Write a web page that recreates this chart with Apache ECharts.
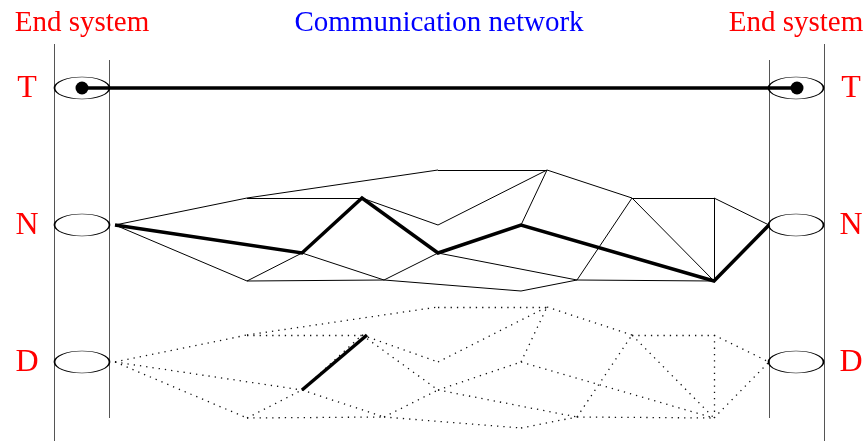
<!DOCTYPE html>
<html>
<head>
<meta charset="utf-8">
<script src="https://cdn.jsdelivr.net/npm/echarts@6/dist/echarts.min.js"></script>
<style>html,body{margin:0;padding:0;background:#fff}#c{width:868px;height:441px}</style>
</head>
<body>
<div id="c"></div>
<script>
// ---- data ----
const layerNames = ['T', 'N', 'D'];
const layerY = [88, 225, 362];
const endSystemX = [82, 796];
const outerBarsX = [54, 824];
const innerBarsX = [109, 769];
const headerLabels = ['End system', 'Communication network', 'End system'];
const headerX = [82, 439, 796];

// network node positions (N layer)
const nodes = {
  A: [115, 225], B: [247, 198], C: [438, 170], D: [362, 198], F: [438, 225],
  G: [547, 170], H: [302, 253], I: [247, 281], J: [384, 280], K: [438, 253],
  L: [521, 225], M: [521, 291], S: [577, 280], O: [632, 198], P: [714, 198],
  Q: [714, 281], R: [769, 225]
};
const thinEdges = [
  ['A','B'],['B','C'],['C','G'],['B','D'],['D','F'],['F','G'],['A','I'],['I','H'],
  ['H','J'],['I','J'],['J','K'],['K','S'],['J','M'],['M','S'],['L','G'],['G','O'],
  ['S','O'],['O','P'],['O','Q'],['P','Q'],['P','R'],['S','Q']
];
const thickPath = ['A','H','D','K','L','Q','R'];
const dLayerShift = 137;
const dThickEdge = [[302, 390], [367, 335]];
const transportLine = [[82, 88], [797, 88]];

// ---- build ----
const edgeCoords = (a, b, dy) => [[nodes[a][0], nodes[a][1] + dy], [nodes[b][0], nodes[b][1] + dy]];
const thinN = thinEdges.map(e => ({ coords: edgeCoords(e[0], e[1], 0) }));
const pathEdges = [];
for (let i = 0; i < thickPath.length - 1; i++) pathEdges.push([thickPath[i], thickPath[i + 1]]);
const dotD = thinEdges.concat(pathEdges).map(e => ({ coords: edgeCoords(e[0], e[1], dLayerShift) }));
const thickN = [{ coords: thickPath.map(k => nodes[k]) }];

const bars = [];
outerBarsX.forEach(x => bars.push({ coords: [[x, 44], [x, 441]] }));
innerBarsX.forEach(x => bars.push({ coords: [[x, 60], [x, 418]] }));

const ellipses = [];
layerY.forEach(y => endSystemX.forEach(x => ellipses.push([x, y])));

const chart = echarts.init(document.getElementById('c'));
const serif = '"Liberation Serif", "DejaVu Serif", serif';
const graphics = [];
headerLabels.forEach((t, i) => graphics.push({
  type: 'text', x: headerX[i], y: 23,
  style: { text: t, fill: i === 1 ? '#0000ff' : '#ff0000', font: '29px ' + serif, align: 'center', verticalAlign: 'middle' }
}));
layerNames.forEach((t, i) => {
  [27, 851].forEach(x => graphics.push({
    type: 'text', x: x, y: layerY[i] + 1,
    style: { text: t, fill: '#ff0000', font: '32px ' + serif, align: 'center', verticalAlign: 'middle' }
  }));
});

chart.setOption({
  animation: false,
  grid: { left: 0, right: 0, top: 0, bottom: 0 },
  xAxis: { type: 'value', min: 0, max: 868, show: false },
  yAxis: { type: 'value', min: 0, max: 441, inverse: true, show: false },
  graphic: graphics,
  series: [
    { type: 'lines', coordinateSystem: 'cartesian2d', silent: true, z: 1,
      lineStyle: { color: '#555', width: 1, opacity: 1 }, data: bars },
    { type: 'lines', coordinateSystem: 'cartesian2d', silent: true, z: 2,
      lineStyle: { color: '#000', width: 1, opacity: 1 }, data: thinN },
    { type: 'lines', coordinateSystem: 'cartesian2d', silent: true, z: 2,
      lineStyle: { color: '#111', width: 1.3, type: [1.3, 5], opacity: 1 }, data: dotD },
    { type: 'lines', coordinateSystem: 'cartesian2d', polyline: true, silent: true, z: 3,
      lineStyle: { color: '#000', width: 3.5, opacity: 1, join: 'miter' }, data: thickN },
    { type: 'lines', coordinateSystem: 'cartesian2d', silent: true, z: 3,
      lineStyle: { color: '#000', width: 3.5, opacity: 1 }, data: [{ coords: dThickEdge }] },
    { type: 'lines', coordinateSystem: 'cartesian2d', silent: true, z: 3,
      lineStyle: { color: '#000', width: 3.5, opacity: 1 }, data: [{ coords: transportLine }] },
    { type: 'scatter', silent: true, z: 4, symbol: 'circle', symbolSize: [55, 22],
      itemStyle: { color: 'rgba(0,0,0,0)', borderColor: '#000', borderWidth: 1.1, opacity: 1 }, data: ellipses },
    { type: 'scatter', silent: true, z: 5, symbol: 'circle', symbolSize: 13,
      itemStyle: { color: '#000', opacity: 1 }, data: transportLine }
  ]
});
</script>
</body>
</html>
